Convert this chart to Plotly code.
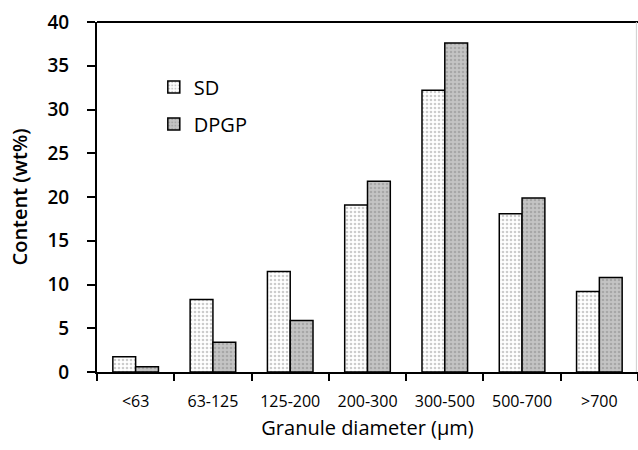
import plotly.graph_objects as go

categories = ["<63", "63-125", "125-200", "200-300", "300-500", "500-700", ">700"]
sd_values = [1.75, 8.3, 11.5, 19.1, 32.2, 18.1, 9.2]
dpgp_values = [0.6, 3.4, 5.9, 21.8, 37.6, 19.9, 10.8]
y_ticks = [0, 5, 10, 15, 20, 25, 30, 35, 40]

FONT = "Open Sans"

fig = go.Figure()
fig.add_trace(go.Bar(
    name="SD", x=categories, y=sd_values, legendgroup="sd",
    marker=dict(color="white", line=dict(color="black", width=1.5),
                pattern=dict(shape=".", fgcolor="#9a9a9a", bgcolor="white",
                             size=4, solidity=0.35)),
))
fig.add_trace(go.Bar(
    name="DPGP", x=categories, y=dpgp_values, legendgroup="dpgp",
    marker=dict(color="#bdbdbd", line=dict(color="black", width=1.5),
                pattern=dict(shape=".", fgcolor="#8a8a8a", bgcolor="#c4c4c4",
                             size=4, solidity=0.35)),
))

fig.update_layout(
    width=638, height=450,
    margin=dict(l=97, r=0, t=22, b=78),
    paper_bgcolor="white", plot_bgcolor="white",
    barmode="group", bargap=0.41, bargroupgap=0,
    font=dict(family=FONT, color="black"),
    showlegend=True,
    legend=dict(x=0.105, y=0.87, xanchor="left", yanchor="top",
                font=dict(size=20, family=FONT, weight=500), bgcolor="rgba(0,0,0,0)",
                tracegroupgap=8, itemwidth=30),
    xaxis=dict(
        range=[-0.5, 6.5], showline=True, linecolor="black", linewidth=2,
        ticks="outside", tickson="boundaries", ticklen=7, tickwidth=2,
        tickcolor="black", tickfont=dict(size=16, family=FONT, weight=500),
        ticklabelstandoff=14,
        title=dict(text="Granule diameter (µm)", font=dict(size=20, family=FONT, weight=500),
                   standoff=10),
        showgrid=False, zeroline=False,
    ),
    yaxis=dict(
        range=[0, 40], tickvals=y_ticks, showline=True, linecolor="black",
        linewidth=2, ticks="outside", ticklen=8, tickwidth=2, tickcolor="black",
        tickfont=dict(size=19, family=FONT, weight=600),
        ticklabelstandoff=14,
        title=dict(text="Content (wt%)", font=dict(size=20, family=FONT, weight=600),
                   standoff=14),
        showgrid=False, zeroline=False,
    ),
    shapes=[
        dict(type="line", xref="paper", yref="paper", x0=0, x1=1, y0=1, y1=1,
             line=dict(color="black", width=2)),
        dict(type="line", xref="paper", yref="paper", x0=0.997, x1=0.997, y0=0, y1=1,
             line=dict(color="#cfcfcf", width=1)),
    ],
)

fig.write_html("out.html")
